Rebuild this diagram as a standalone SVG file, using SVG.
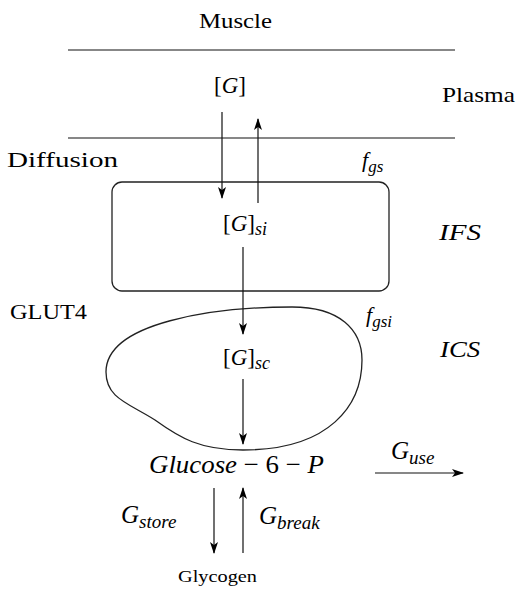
<svg xmlns="http://www.w3.org/2000/svg" width="519" height="589" viewBox="0 0 519 589">
<style>
text{font-family:"Liberation Serif","Times New Roman",Times,serif;fill:#000}
.it{font-style:italic}
.up{font-style:normal}
.ln{stroke:#111;stroke-width:1.2;fill:none}
.shape{stroke:#222;stroke-width:1.3;fill:none}
</style>
<defs>
<marker id="ah" viewBox="0 0 12 8" refX="11" refY="4" markerWidth="12" markerHeight="8" markerUnits="userSpaceOnUse" orient="auto">
<path d="M0,0 L12,4 L0,8 L3,4 Z" fill="#000"/>
</marker>
</defs>
<rect width="519" height="589" fill="#fff"/>
<g id="membranes">
<line class="ln" x1="68" y1="50" x2="455" y2="50"/>
<line class="ln" x1="68" y1="138" x2="455" y2="138"/>
</g>
<g id="labels">
<text x="199" y="28" font-size="21" textLength="73" lengthAdjust="spacingAndGlyphs">Muscle</text>
<text x="442" y="102" font-size="21" textLength="73" lengthAdjust="spacingAndGlyphs">Plasma</text>
<text x="7" y="167" font-size="22" textLength="111" lengthAdjust="spacingAndGlyphs">Diffusion</text>
<text x="362" y="167" font-size="22" class="it">f<tspan font-size="17" dy="5">gs</tspan></text>
<text x="10" y="319" font-size="20" textLength="77" lengthAdjust="spacingAndGlyphs">GLUT4</text>
<text x="366" y="322" font-size="22" class="it">f<tspan font-size="17" dy="5">gsi</tspan></text>
<text x="439" y="240" font-size="24" class="it" textLength="42" lengthAdjust="spacingAndGlyphs">IFS</text>
<text x="440" y="357" font-size="24" class="it" textLength="40" lengthAdjust="spacingAndGlyphs">ICS</text>
</g>
<g id="node-plasma">
<text x="214" y="93" font-size="23"><tspan class="up">[</tspan><tspan class="it">G</tspan><tspan class="up">]</tspan></text>
</g>
<g id="node-ifs">
<rect class="shape" x="112" y="182" width="277" height="109" rx="10"/>
<text x="223" y="231" font-size="23"><tspan class="up">[</tspan><tspan class="it">G</tspan><tspan class="up">]</tspan><tspan class="it" font-size="18" dy="4">si</tspan></text>
</g>
<g id="node-ics">
<path class="shape" d="M106,372 C106,322 215,307 292,307 C340,307 362,330 362,360 C362,405 330,450 243,450 C200,450 180,438 155,420 C128,403 106,398 106,372 Z"/>
<text x="223" y="365" font-size="23"><tspan class="up">[</tspan><tspan class="it">G</tspan><tspan class="up">]</tspan><tspan class="it" font-size="18" dy="4">sc</tspan></text>
</g>
<g id="node-g6p">
<text x="149" y="473" font-size="26" textLength="175" lengthAdjust="spacingAndGlyphs"><tspan class="it">Glucose</tspan> − 6 − <tspan class="it">P</tspan></text>
</g>
<g id="node-glycogen">
<text x="178" y="582" font-size="17" textLength="79" lengthAdjust="spacingAndGlyphs">Glycogen</text>
</g>
<g id="connectors">
<line class="ln" x1="222" y1="112" x2="222" y2="198" marker-end="url(#ah)"/>
<line class="ln" x1="258" y1="203" x2="258" y2="119" marker-end="url(#ah)"/>
<line class="ln" x1="243" y1="247" x2="243" y2="334" marker-end="url(#ah)"/>
<line class="ln" x1="243" y1="379" x2="243" y2="444" marker-end="url(#ah)"/>
<line class="ln" x1="375" y1="473" x2="463" y2="473" marker-end="url(#ah)"/>
<line class="ln" x1="214" y1="488" x2="214" y2="553" marker-end="url(#ah)"/>
<line class="ln" x1="243" y1="553" x2="243" y2="488" marker-end="url(#ah)"/>
<text x="391" y="459" font-size="25" class="it">G<tspan font-size="19" dy="5">use</tspan></text>
<text x="121" y="523" font-size="25" class="it">G<tspan font-size="19" dy="5">store</tspan></text>
<text x="259" y="524" font-size="25" class="it">G<tspan font-size="19" dy="5">break</tspan></text>
</g>
</svg>
